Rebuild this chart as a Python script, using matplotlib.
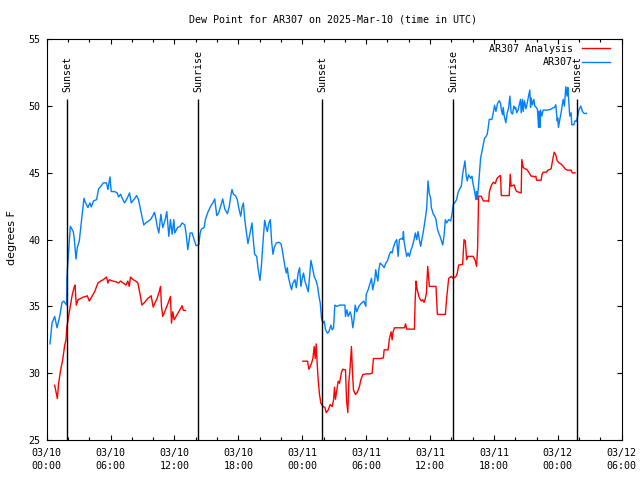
import matplotlib
matplotlib.use("Agg")
import matplotlib.pyplot as plt
import matplotlib.dates as mdates
import numpy as np
import pandas as pd

# hours after 2025-03-10 00:00 UTC
START = pd.Timestamp("2025-03-10 00:00")

obs_hours = [
    0.31, 0.5, 0.75, 0.97, 1.22, 1.44, 1.6, 1.87, 1.9, 2.12, 2.22, 2.5, 2.6, 2.75, 2.87,
    3.06, 3.25, 3.5, 3.6, 3.87, 4.06, 4.19, 4.4, 4.69, 4.87, 5.1, 5.31, 5.62, 5.75, 5.94,
    6.06, 6.37, 6.62, 6.75, 6.94, 7.15, 7.31, 7.56, 7.78, 7.94, 8.19, 8.44, 8.62, 8.81,
    8.94, 9.12, 9.3, 9.56, 9.75, 9.94, 10.12, 10.25, 10.37, 10.53, 10.72, 10.9, 11.1,
    11.28, 11.47, 11.62, 11.78, 11.94, 12.03, 12.28, 12.53, 12.72, 12.97, 13.1, 13.25,
    13.47, 13.66, 13.84, 14.03, 14.28, 14.41, 14.53, 14.78, 14.9, 15.16, 15.4, 15.6,
    15.78, 15.97, 16.15, 16.34, 16.53, 16.72, 16.97, 17.15, 17.28, 17.4, 17.53, 17.72,
    17.9, 18.03, 18.22, 18.34, 18.47, 18.59, 18.72, 18.9, 19.1, 19.28, 19.4, 19.53,
    19.72, 19.84, 20.03, 20.15, 20.28, 20.47, 20.59, 20.72, 20.87, 21.0, 21.12, 21.25,
    21.37, 21.56, 21.81, 22.0, 22.12, 22.25, 22.37, 22.5, 22.6, 22.69, 22.87, 23.0,
    23.12, 23.31, 23.44, 23.62, 23.75, 23.87, 24.0, 24.12, 24.25, 24.44, 24.56, 24.69,
    24.81, 25.0, 25.12, 25.31, 25.44, 25.56, 25.69, 25.81, 25.94, 26.06, 26.19, 26.37,
    26.5, 26.69, 26.81, 26.94, 27.0, 27.06, 27.25, 27.5, 27.75, 28.0, 28.06, 28.19,
    28.31, 28.5, 28.62, 28.75, 28.87, 28.97, 29.12, 29.31, 29.5, 29.78, 29.97, 30.0,
    30.19, 30.37, 30.5, 30.62, 30.81, 30.9, 31.0, 31.1, 31.2, 31.31, 31.5, 31.69, 31.85,
    32.0, 32.19, 32.31, 32.44, 32.53, 32.72, 32.87, 33.0, 33.12, 33.37, 33.44, 33.5,
    33.56, 33.69, 33.81, 33.94, 34.06, 34.22, 34.34, 34.5, 34.62, 34.75, 34.87, 35.0,
    35.12, 35.25, 35.37, 35.56, 35.69, 35.81, 35.94, 36.06, 36.12, 36.31, 36.44, 36.56,
    36.69, 36.81, 36.94, 37.19, 37.31, 37.44, 37.56, 37.75, 37.94, 38.06, 38.19, 38.31,
    38.5, 38.62, 38.75, 38.94, 39.06, 39.19, 39.28, 39.4, 39.5, 39.62, 39.81, 39.94,
    40.0, 40.19, 40.31, 40.37, 40.44, 40.56, 40.75, 40.87, 41.0, 41.12, 41.25, 41.37,
    41.44, 41.56, 41.81, 41.94, 42.06, 42.19, 42.34, 42.5, 42.62, 42.69, 42.81, 42.87,
    42.97, 43.12, 43.25, 43.37, 43.5, 43.62, 43.75, 43.87, 44.0, 44.03, 44.15, 44.28,
    44.5, 44.56, 44.69, 44.75, 44.87, 45.0, 45.1, 45.25, 45.37, 45.44, 45.5, 45.62,
    45.75, 45.84, 45.97, 46.09, 46.19, 46.25, 46.31, 46.37, 46.5, 46.62, 46.69, 47.0,
    47.31, 47.5, 47.69, 47.81, 47.87, 47.94, 48.0, 48.06, 48.19, 48.31, 48.5, 48.62,
    48.75, 48.87, 48.94, 49.06, 49.12, 49.25, 49.31, 49.5, 49.62, 49.75, 49.87, 49.97,
    50.16, 50.31, 50.47, 50.69,
]
obs_dewpt = [
    32.2, 33.75, 34.25, 33.4, 34.25, 35.3, 35.4, 35.1, 37.25, 39.9, 41.0, 40.6, 40.0, 38.55, 39.4,
    39.9, 41.25, 43.1, 42.85, 42.4, 42.75, 42.45, 42.9, 43.0, 43.8, 44.0, 44.25, 44.25, 43.75, 44.7,
    43.6, 43.6, 43.5, 43.2, 43.4, 43.0, 42.75, 43.1, 43.5, 42.75, 43.0, 43.3, 43.0, 42.25,
    41.75, 41.1, 41.25, 41.4, 41.5, 41.75, 42.05, 41.6, 41.0, 40.5, 41.9, 40.9, 41.4,
    42.1, 40.25, 41.5, 40.4, 41.5, 40.5, 40.9, 41.0, 41.25, 41.1, 40.4, 39.25,
    40.5, 40.5, 40.0, 39.55, 39.6, 40.5, 40.8, 40.9, 41.5, 42.1, 42.5, 42.75,
    43.05, 41.8, 42.0, 42.5, 43.05, 42.3, 41.95, 42.5, 43.25, 43.75, 43.4, 43.3,
    43.0, 42.4, 41.75, 42.4, 42.75, 41.6, 40.75, 39.7, 40.5, 41.25, 40.0, 38.9,
    38.75, 37.9, 36.95, 37.9, 39.45, 41.45, 41.0, 40.6, 41.25, 41.5, 39.9, 38.9,
    39.4, 39.75, 39.8, 39.7, 39.25, 38.6, 38.0, 37.5, 37.9, 37.25, 36.6, 36.25,
    36.75, 37.0, 36.4, 37.5, 37.9, 36.5, 37.1, 37.5, 36.9, 36.4, 36.1, 37.25,
    38.45, 37.75, 37.25, 36.9, 36.5, 35.8, 35.25, 34.1, 33.75, 33.9, 33.25, 33.0,
    33.1, 33.6, 33.25, 33.4, 34.25, 35.1, 35.0, 35.1, 35.1, 35.1, 34.25, 34.75,
    34.25, 34.6, 34.25, 33.4, 34.1, 35.1, 34.6, 35.0, 35.2, 35.4, 35.0, 35.9,
    36.25, 36.75, 37.1, 36.25, 37.0, 37.75, 37.25, 36.9, 37.8, 38.25, 38.1, 37.9, 38.25,
    38.4, 38.9, 39.1, 39.0, 39.35, 39.8, 40.0, 38.75, 40.0, 40.1, 40.0, 40.6,
    39.9, 39.25, 38.75, 39.0, 38.75, 39.25, 39.5, 40.0, 40.5, 40.0, 40.6, 40.0,
    39.5, 40.1, 40.6, 41.6, 42.4, 44.4, 43.4, 43.1, 42.4, 41.9, 41.75, 41.5,
    40.8, 40.5, 40.25, 39.6, 40.25, 41.5, 41.25, 41.5, 41.4, 41.9, 42.65, 42.75,
    43.0, 43.5, 43.75, 44.0, 44.9, 45.5, 45.9, 44.75, 44.4, 44.85, 44.6, 44.75,
    44.35, 43.6, 43.0, 43.6, 43.0, 44.1, 46.1, 46.6, 47.1, 47.6, 47.7, 47.9,
    48.25, 49.0, 49.0, 49.5, 50.05, 49.6, 50.2, 50.4, 50.2, 49.75, 49.35, 49.9,
    49.25, 48.75, 49.5, 49.8, 50.75, 49.5, 49.4, 50.0, 49.8, 49.9, 49.5, 49.75,
    50.5, 49.5, 50.5, 49.6, 50.4, 49.8, 50.1, 50.75, 51.2, 49.9, 50.6, 50.1,
    50.5, 50.0, 49.9, 49.75, 48.4, 49.6, 48.4, 49.7, 49.25, 49.7, 49.7, 49.7,
    49.75, 49.85, 49.9, 50.1, 49.5, 48.9, 49.1, 48.4, 49.0, 49.5, 50.5, 50.0,
    51.45, 50.75, 51.4, 50.0, 49.25, 49.5, 48.6, 48.6, 48.9, 48.85, 49.25, 49.7,
    50.0, 49.6, 49.45, 49.45,
]

# analysis series, NaN marks the gap in the data
ana_hours = [
    0.75, 0.84, 1.0, 1.12, 1.31, 1.5, 1.69, 1.81, 1.9, 2.06, 2.25, 2.37, 2.56, 2.66, 2.78,
    2.94, 3.19, 3.44, 3.69, 3.81, 4.0, 4.25, 4.5, 4.81, 5.06, 5.31, 5.62, 5.75, 5.87,
    6.19, 6.5, 6.75, 6.94, 7.19, 7.44, 7.62, 7.75, 7.87, 8.12, 8.37, 8.56, 8.75, 8.94,
    9.19, 9.5, 9.81, 10.0, 10.19, 10.37, 10.56, 10.69, 10.78, 10.9, 11.15, 11.4, 11.62,
    11.72, 11.84, 11.97, 12.15, 12.4, 12.72, 12.84, 13.03,
    18.0,
    24.06, 24.5, 24.62, 24.75, 24.87, 25.0, 25.12, 25.22, 25.31, 25.4, 25.5, 25.62,
    25.75, 25.94, 26.12, 26.25, 26.44, 26.62, 26.81, 26.94, 27.03, 27.12, 27.25, 27.37,
    27.5, 27.69, 27.81, 28.06, 28.16, 28.28, 28.37, 28.5, 28.62, 28.72, 28.81, 29.0,
    29.19, 29.37, 29.5, 29.69, 30.0, 30.31, 30.56, 30.69, 31.37, 31.62, 31.69, 32.06,
    32.19, 32.34, 32.44, 32.53, 32.66, 33.6, 33.7, 33.81, 34.53, 34.6, 34.69, 34.78,
    34.97, 35.1, 35.19, 35.31, 35.44, 35.56, 35.66, 35.78, 35.84, 35.94, 36.56, 36.69,
    37.44, 37.56, 37.75, 38.0, 38.19, 38.44, 38.56, 38.69, 39.06, 39.19, 39.31, 39.44,
    39.56, 40.06, 40.25, 40.37, 40.47, 40.56, 40.81, 41.0, 41.44, 41.5, 41.58, 41.69,
    41.75, 41.94, 42.12, 42.3, 42.5, 42.62, 42.69, 43.44, 43.53, 43.62, 43.75, 43.9,
    44.03, 44.15, 44.56, 44.62, 44.75, 44.94, 45.1, 45.31, 45.5, 45.69, 45.81, 45.94,
    46.0, 46.44, 46.5, 46.62, 46.94, 47.06, 47.37, 47.5, 47.66, 47.81, 47.94, 48.12,
    48.31, 48.5, 48.69, 48.9, 49.25, 49.37, 49.62,
]
ana_dewpt = [
    29.1, 28.75, 28.1, 29.25, 30.25, 31.0, 32.1, 32.5, 33.5, 34.25, 35.1, 35.75, 36.4, 36.6, 35.1,
    35.5, 35.6, 35.7, 35.75, 35.8, 35.4, 35.75, 36.1, 36.75, 36.9, 37.0, 37.2, 36.75, 37.0,
    36.9, 36.85, 36.75, 36.9, 36.75, 36.6, 36.9, 36.5, 37.2, 37.0, 36.9, 36.75, 36.0, 35.1,
    35.3, 35.6, 35.8, 34.95, 35.3, 35.6, 36.1, 36.5, 35.0, 34.25, 34.75, 35.25, 35.75,
    33.75, 34.6, 34.0, 34.25, 34.6, 35.05, 34.7, 34.7,
    np.nan,
    30.9, 30.9, 30.3, 30.5, 30.75, 31.1, 32.0, 31.1, 32.2, 30.75, 29.45, 28.4,
    27.75, 27.5, 27.45, 27.05, 27.25, 27.65, 27.5, 28.0, 28.95, 28.05, 28.75, 29.4,
    29.25, 30.1, 30.3, 30.25, 28.0, 27.05, 29.25, 30.5, 32.0, 30.0, 28.75, 28.4,
    28.6, 29.0, 29.5, 29.9, 29.95, 29.95, 30.0, 31.1, 31.1, 31.15, 31.75, 31.75,
    32.6, 33.1, 32.5, 33.1, 33.4, 33.4, 33.7, 33.3, 33.3, 35.4, 36.9, 36.3,
    35.7, 35.5, 35.4, 35.5, 35.3, 35.6, 36.0, 38.0, 37.4, 36.5, 36.5, 34.4,
    34.4, 35.6, 37.1, 37.25, 37.1, 37.25, 37.5, 38.1, 38.15, 40.0, 39.9, 38.5,
    38.75, 38.75, 38.4, 38.0, 39.4, 43.25, 43.25, 42.9, 42.9, 42.85, 43.6, 43.9,
    44.05, 44.3, 44.2, 44.6, 44.75, 44.8, 43.3, 43.3, 44.9, 44.0, 44.05, 44.1,
    43.75, 43.6, 43.5, 46.0, 45.4, 45.3, 45.25, 45.0, 44.75, 44.75, 44.7, 44.75,
    44.45, 44.45, 44.85, 45.05, 45.05, 45.2, 45.3, 45.9, 46.55, 46.35, 45.9, 45.75,
    45.65, 45.5, 45.3, 45.2, 45.2, 45.0, 45.0,
]

sun_hours = [1.9, 14.2, 25.9, 38.2, 49.8]
sun_labels = ["Sunset", "Sunrise", "Sunset", "Sunrise", "Sunset"]


def to_time(hours):
    return START + pd.to_timedelta(np.asarray(hours, dtype=float), unit="h")


plt.rcParams["font.family"] = ["DejaVu Sans Mono"]
plt.rcParams["font.size"] = 7.2

fig = plt.figure(figsize=(6.4, 4.8), dpi=100)
ax = fig.add_axes([46.7 / 640, 40 / 480, 575 / 640, 400.7 / 480])

ax.plot(to_time(ana_hours), ana_dewpt, color="#ff0000", lw=1.0, label="AR307 Analysis")
ax.plot(to_time(obs_hours), obs_dewpt, color="#0080ff", lw=1.0, label="AR307")

sun_t = to_time(sun_hours)
ax.vlines(sun_t, 25, 50.5, color="black", lw=1.0)
for t, lab in zip(sun_t, sun_labels):
    ax.text(t, 51.05, lab, rotation=90, ha="center", va="bottom")

ax.set_xlim(START, START + pd.Timedelta(hours=54))
ax.set_ylim(25, 55)
ax.set_yticks(range(25, 56, 5))
ax.xaxis.set_major_locator(mdates.HourLocator(byhour=range(0, 24, 6)))
ax.xaxis.set_minor_locator(mdates.HourLocator(byhour=range(0, 24, 2)))
ax.xaxis.set_major_formatter(mdates.DateFormatter("%m/%d\n%H:%M"))
for lab in ax.get_xticklabels():
    lab.set_linespacing(1.3)

ax.tick_params(which="both", direction="in", top=True, right=True, width=0.8)
ax.tick_params(which="major", length=3.6)
ax.tick_params(which="minor", length=2.2)
ax.tick_params(axis="x", pad=6)
ax.tick_params(axis="y", pad=4.5)
for sp in ax.spines.values():
    sp.set_linewidth(0.8)

ax.legend(loc="upper right", bbox_to_anchor=(1 - 11.7 / 575, 1 - 4.5 / 400.7),
          frameon=False, markerfirst=False, borderpad=0, borderaxespad=0,
          handlelength=2.8, handletextpad=0.9, labelspacing=0.35)

fig.text(333 / 640, 1 - 20 / 480, "Dew Point for AR307 on 2025-Mar-10 (time in UTC)",
         ha="center", va="center")
fig.text(12 / 640, 1 - 238 / 480, "degrees F", family="DejaVu Sans", fontsize=8,
         rotation=90, ha="center", va="center")

fig.savefig("out.png", dpi=100)
